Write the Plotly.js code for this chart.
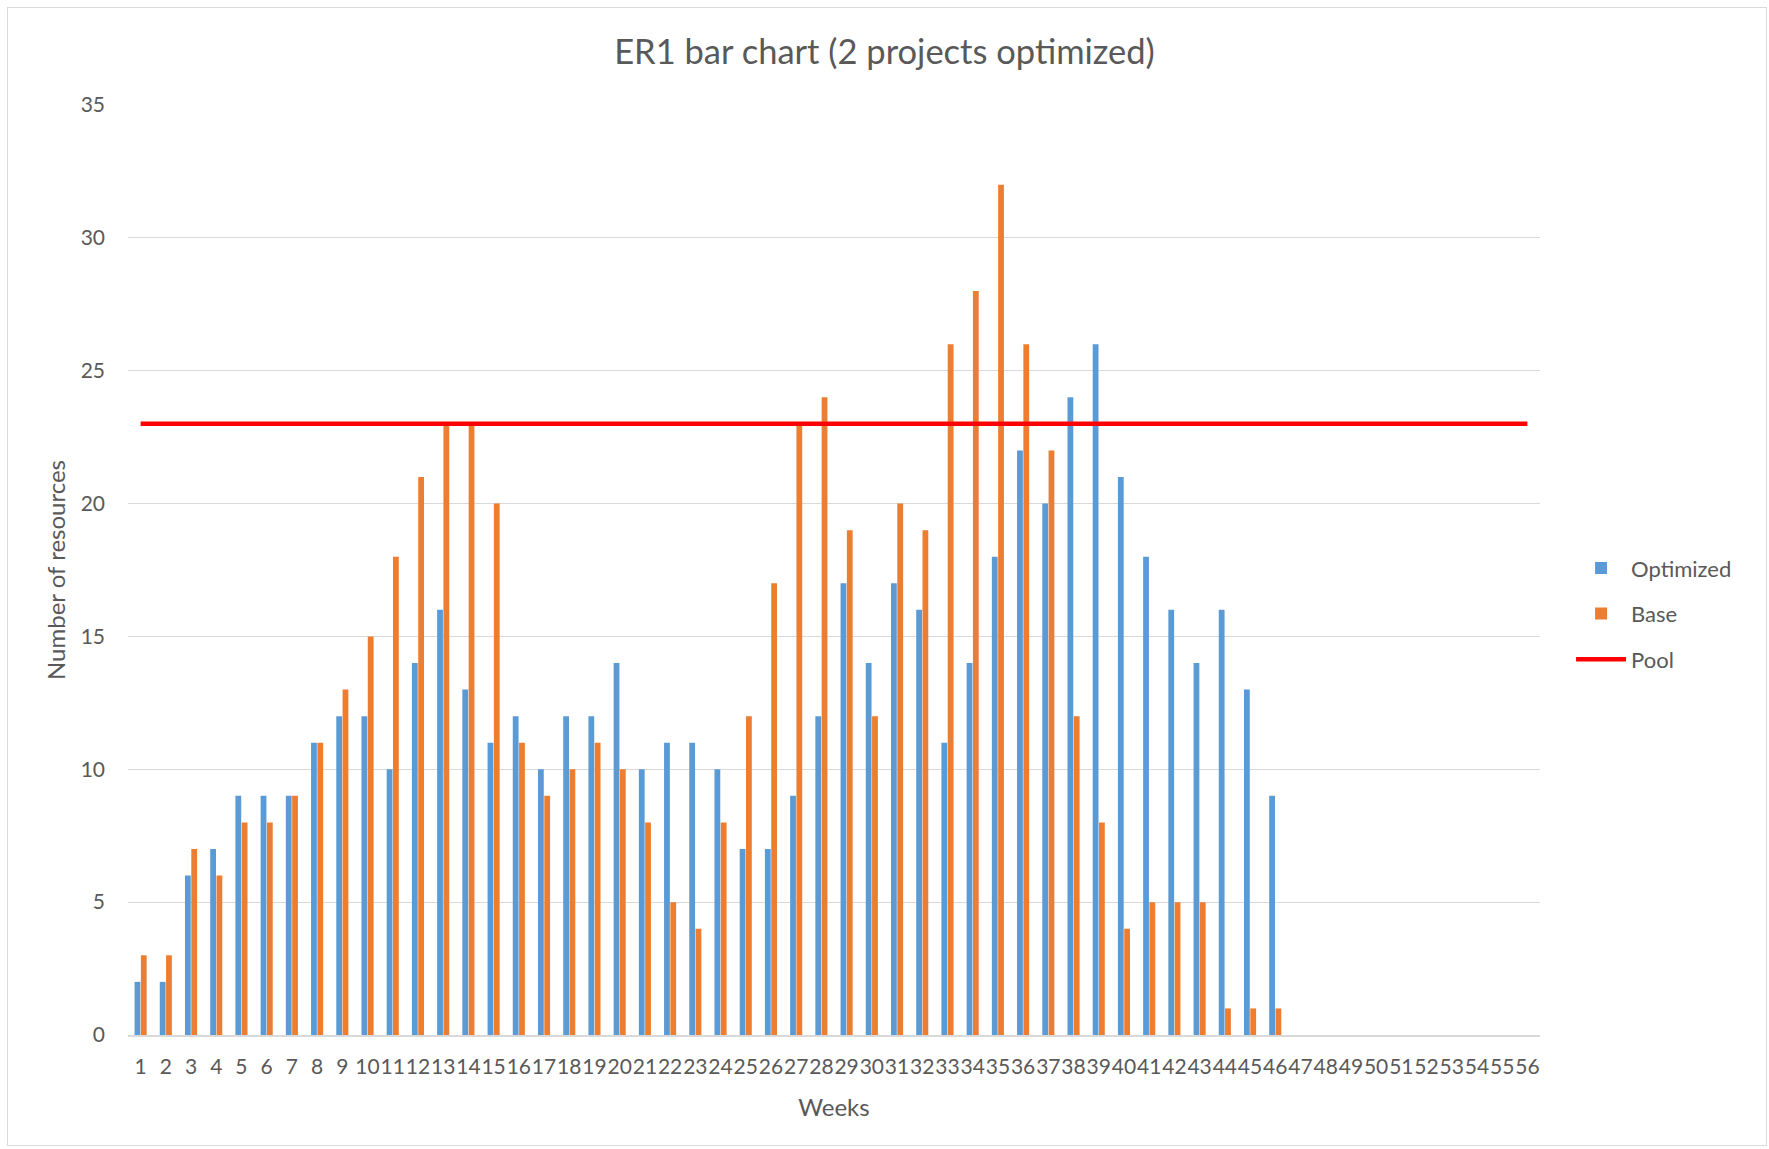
<!DOCTYPE html>
<html>
<head>
<meta charset="utf-8">
<script src="https://cdn.plot.ly/plotly-3.0.1.min.js"></script>
<style>
  html, body { margin: 0; padding: 0; background: #ffffff; }
  #wrap { position: relative; width: 1769px; height: 1149px; }
  #chart { width: 1769px; height: 1149px; }
  #frame { position: absolute; left: 7px; top: 7px; width: 1758px; height: 1137px;
           border: 1px solid #d9d9d9; pointer-events: none; }
</style>
</head>
<body>
<div id="wrap">
  <div id="chart"></div>
  <div id="frame"></div>
</div>
<script>
// Week labels 1..56
const weeks = ["1","2","3","4","5","6","7","8","9","10","11","12","13","14","15","16","17","18","19","20",
  "21","22","23","24","25","26","27","28","29","30","31","32","33","34","35","36","37","38","39","40",
  "41","42","43","44","45","46","47","48","49","50","51","52","53","54","55","56"];

// Weeks that carry bars (1..46)
const barWeeks = weeks.slice(0, 46);

const optimized = [2,2,6,7,9,9,9,11,12,12,10,14,16,13,11,12,10,12,12,14,
  10,11,11,10,7,7,9,12,17,14,17,16,11,14,18,22,20,24,26,21,
  18,16,14,16,13,9];

const base = [3,3,7,6,8,8,9,11,13,15,18,21,23,23,20,11,9,10,11,10,
  8,5,4,8,12,17,23,24,19,12,20,19,26,28,32,26,22,12,8,4,
  5,5,5,1,1,1];

const pool = [23,23,23,23,23,23,23,23,23,23,23,23,23,23,23,23,23,23,23,23,
  23,23,23,23,23,23,23,23,23,23,23,23,23,23,23,23,23,23,23,23,
  23,23,23,23,23,23,23,23,23,23,23,23,23,23,23,23];

const FONT = "Lato, 'Open Sans', sans-serif";
const GREY = "#595959";

const traces = [
  { type: "bar", name: "Optimized", x: barWeeks, y: optimized,
    marker: { color: "#5b9bd5", line: { width: 0 } }, legendgroup: "a" },
  { type: "bar", name: "Base", x: barWeeks, y: base,
    marker: { color: "#ed7d31", line: { width: 0 } }, legendgroup: "b" },
  { type: "scatter", mode: "lines", name: "Pool", x: weeks, y: pool,
    line: { color: "#ff0000", width: 4.5 }, legendgroup: "c" }
];

const layout = {
  width: 1769, height: 1149,
  paper_bgcolor: "#ffffff", plot_bgcolor: "#ffffff",
  margin: { l: 128, r: 229, t: 105, b: 114 },
  font: { family: FONT, color: GREY, size: 21 },
  title: { text: "ER1 bar chart (2 projects optimized)", font: { family: FONT, size: 34.5, color: GREY },
           x: 0.5, xref: "container", xanchor: "center", y: 0.955, yref: "container", yanchor: "middle" },
  barmode: "group", bargap: 0.5, bargroupgap: 0.08,
  showlegend: true,
  legend: { x: 1.022, xanchor: "left", y: 0.453, yanchor: "middle", traceorder: "grouped",
            tracegroupgap: 14, font: { family: FONT, size: 22, color: GREY }, bgcolor: "rgba(0,0,0,0)",
            itemwidth: 50 },
  xaxis: {
    type: "category", categoryorder: "array", categoryarray: weeks,
    range: [-0.5, 55.5],
    tickmode: "linear", tick0: 0, dtick: 1, tickangle: 0,
    showgrid: false, showline: true, linecolor: "#d9d9d9", linewidth: 1.5,
    ticks: "", ticklabelstandoff: 12,
    tickfont: { family: FONT, size: 21, color: GREY },
    title: { text: "Weeks", font: { family: FONT, size: 24, color: GREY }, standoff: 22 },
    automargin: false
  },
  yaxis: {
    range: [0, 35], dtick: 5, tick0: 0,
    showgrid: true, gridcolor: "#d9d9d9", gridwidth: 1.2,
    zeroline: false, showline: false, ticks: "", ticklabelstandoff: 22,
    tickfont: { family: FONT, size: 21, color: GREY },
    title: { text: "Number of resources", font: { family: FONT, size: 24, color: GREY }, standoff: 8 },
    automargin: false
  }
};

Plotly.newPlot("chart", traces, layout, { displayModeBar: false, staticPlot: true });
</script>
</body>
</html>
